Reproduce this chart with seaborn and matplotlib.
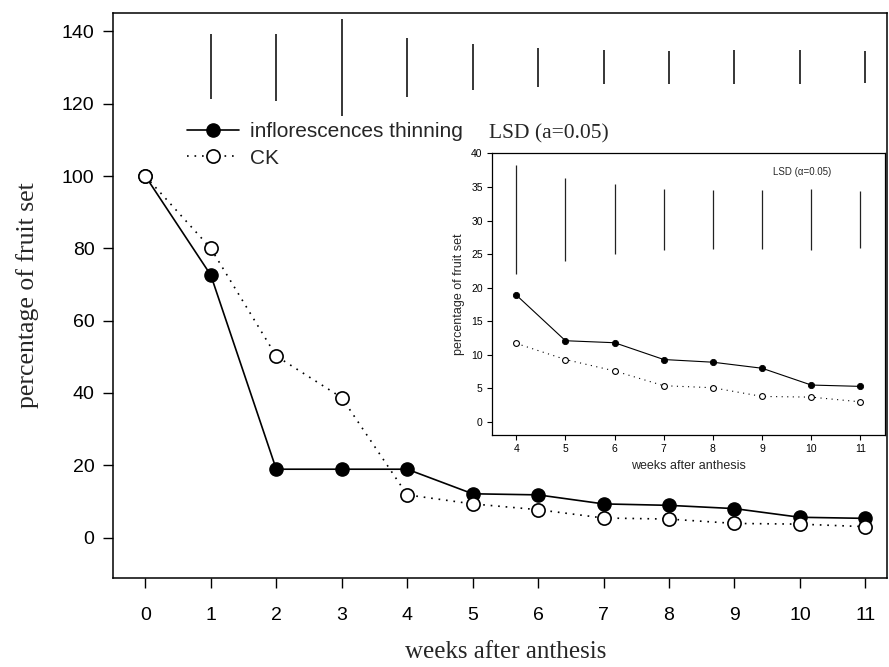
import numpy as np
import pandas as pd
import matplotlib
matplotlib.use("Agg")
import matplotlib.pyplot as plt
import seaborn as sns

# ---------------- data ----------------
weeks = [0, 1, 2, 3, 4, 5, 6, 7, 8, 9, 10, 11]
thinning = [100, 72.6, 18.9, 18.9, 18.9, 12.1, 11.8, 9.3, 8.9, 8.0, 5.6, 5.3]
ck = [100, 80.0, 50.2, 38.7, 11.8, 9.3, 7.7, 5.4, 5.1, 3.9, 3.7, 3.0]

lsd_weeks = [1, 2, 3, 4, 5, 6, 7, 8, 9, 10, 11]
lsd_low = [121.2, 120.9, 116.7, 121.9, 123.8, 124.7, 125.4, 125.6, 125.4, 125.4, 125.7]
lsd_high = [139.2, 139.4, 143.5, 138.3, 136.6, 135.5, 134.9, 134.6, 134.8, 134.9, 134.6]

inset_weeks = [4, 5, 6, 7, 8, 9, 10, 11]
inset_thinning = [18.9, 12.1, 11.8, 9.3, 8.9, 8.0, 5.5, 5.3]
inset_ck = [11.7, 9.3, 7.6, 5.4, 5.1, 3.8, 3.7, 3.0]
inset_lsd_low = [22.0, 23.9, 25.0, 25.6, 25.8, 25.7, 25.6, 25.9]
inset_lsd_high = [38.3, 36.4, 35.4, 34.7, 34.5, 34.6, 34.7, 34.4]

series_labels = ["inflorescences thinning", "CK"]
x_label = "weeks after anthesis"
y_label = "percentage of fruit set"
lsd_main_text = "LSD (a=0.05)"
lsd_inset_text = "LSD (\u03b1=0.05)"
main_yticks = [0, 20, 40, 60, 80, 100, 120, 140]
inset_yticks = [0, 5, 10, 15, 20, 25, 30, 35, 40]

# ---------------- style ----------------
sns.set_theme(style="ticks")
plt.rcParams["font.family"] = ["Liberation Sans", "DejaVu Sans"]
plt.rcParams["axes.linewidth"] = 1.1

W, H = 889, 667
fig = plt.figure(figsize=(W / 100, H / 100), dpi=100)

def fx(px):
    return px / W

def fy(py):
    return 1 - py / H

# main axes
ax = fig.add_axes([fx(112.6), fy(578), fx(887) - fx(112.6), fy(12.7) - fy(578)])
dotted = (0, (1, 3.5))
df_t = pd.DataFrame({"week": weeks, "value": thinning})
df_c = pd.DataFrame({"week": weeks, "value": ck})
sns.lineplot(data=df_t, x="week", y="value", ax=ax, color="black", lw=1.2,
             marker="o", markersize=9.5, markerfacecolor="black",
             markeredgecolor="black", markeredgewidth=1.0, zorder=3)
sns.lineplot(data=df_c, x="week", y="value", ax=ax, color="black", lw=1.2,
             linestyle=dotted, marker="o", markersize=9.5,
             markerfacecolor="white", markeredgecolor="black",
             markeredgewidth=1.2, zorder=3)
ax.vlines(lsd_weeks, lsd_low, lsd_high, color="black", lw=1.1)

ax.set_xlim(-0.5, 11.33)
ax.set_ylim(-11.2, 145.2)
ax.set_xticks(weeks)
ax.set_yticks(main_yticks)
ax.tick_params(axis="both", direction="out", length=7, width=1.0,
               labelsize=14, colors="black")
ax.tick_params(axis="x", pad=14)
ax.tick_params(axis="y", pad=6)
for s in ax.spines.values():
    s.set_visible(True)
    s.set_color("black")
    s.set_linewidth(1.1)
ax.set_xlabel("")
ax.set_ylabel("")

fig.text(fx(506), fy(652), x_label, ha="center", va="center",
         family=["Liberation Serif", "DejaVu Serif"], fontsize=18)
fig.text(fx(28), fy(295), y_label, ha="center", va="center", rotation=90,
         family=["Liberation Serif", "DejaVu Serif"], fontsize=18.5)

ax.text(5.25, 111.6, lsd_main_text, ha="left", va="center",
        family=["Liberation Serif", "DejaVu Serif"], fontsize=15.5)

handles = ax.get_lines()[:2]
leg = ax.legend(handles, series_labels, loc="upper left",
                bbox_to_anchor=(fx(186.6), fy(122)), bbox_transform=fig.transFigure,
                frameon=False, fontsize=15, handlelength=2.5, handletextpad=0.55,
                labelspacing=0.36, borderpad=0, borderaxespad=0)

# inset axes
ins = fig.add_axes([fx(491.7), fy(435), fx(885) - fx(491.7), fy(152.7) - fy(435)])
ins.set_facecolor("white")
di_t = pd.DataFrame({"week": inset_weeks, "value": inset_thinning})
di_c = pd.DataFrame({"week": inset_weeks, "value": inset_ck})
sns.lineplot(data=di_t, x="week", y="value", ax=ins, color="black", lw=0.8,
             marker="o", markersize=4.5, markerfacecolor="black",
             markeredgecolor="black", markeredgewidth=0.6)
sns.lineplot(data=di_c, x="week", y="value", ax=ins, color="black", lw=0.8,
             linestyle=(0, (1, 4)), marker="o", markersize=4.2,
             markerfacecolor="white", markeredgecolor="black",
             markeredgewidth=0.8)
ins.vlines(inset_weeks, inset_lsd_low, inset_lsd_high, color="#222222", lw=0.9)
ins.set_xlim(3.5, 11.5)
ins.set_ylim(-1.94, 40.1)
ins.set_xticks(inset_weeks)
ins.set_yticks(inset_yticks)
ins.tick_params(axis="both", direction="out", length=3.5, width=0.8,
                labelsize=7.5, colors="black", pad=3)
for s in ins.spines.values():
    s.set_visible(True)
    s.set_color("black")
    s.set_linewidth(0.9)
ins.set_xlabel(x_label, fontsize=9, labelpad=4)
ins.set_ylabel(y_label, fontsize=9, labelpad=4)
ins.text(9.81, 37.2, lsd_inset_text, ha="center", va="center", fontsize=7)

fig.savefig("out.png", dpi=100)
